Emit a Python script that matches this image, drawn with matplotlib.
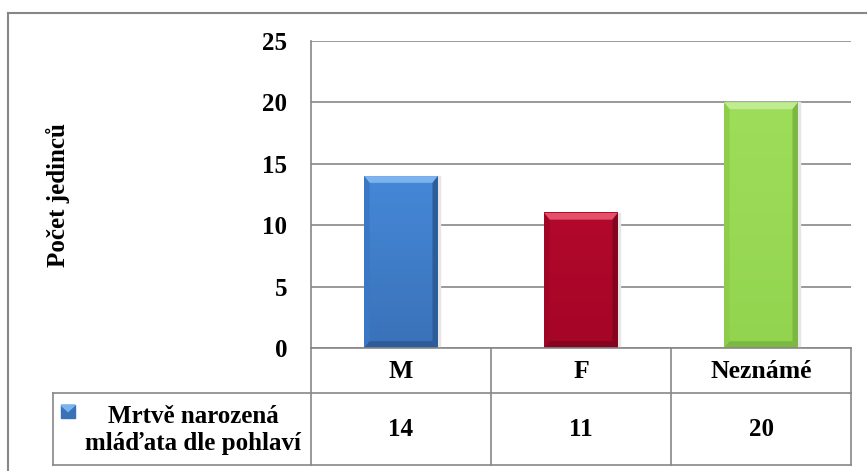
import numpy as np
import matplotlib.pyplot as plt
from matplotlib.colors import LinearSegmentedColormap
from matplotlib.patches import Rectangle, Polygon
from matplotlib.lines import Line2D

# dead-born young by sex
categories = ['M', 'F', 'Neznámé']
counts = [14, 11, 20]
series_name = 'Mrtvě narozená\nmláďata dle pohlaví'
y_label = 'Počet jedinců'
y_ticks = [0, 5, 10, 15, 20, 25]

# face top, face bottom, top bevel, side bevel, bottom bevel
bar_colors = [
    ('#4588d8', '#3a72b8', '#7cb2ee', '#3a78c4', '#2c5c9a'),
    ('#b2082c', '#a50526', '#e2506a', '#a00525', '#85041f'),
    ('#9edd5a', '#93d44f', '#c0eb90', '#8ecd4c', '#7bb842'),
]

W, H = 867, 471
fig = plt.figure(figsize=(W / 100, H / 100), dpi=100)
plt.rcParams['font.family'] = ['Liberation Serif', 'DejaVu Serif']
FS = 18
GRID = '#878787'


def fx(x):
    return x / W


def fy(y):
    return 1 - y / H


ax = fig.add_axes([fx(311), fy(348), (851 - 311) / W, (348 - 41) / H])

# bevelled bars
bw = 0.41
dx = 0.03
dy = 0.55
for i, (v, (c_top, c_bot, top, side, bot)) in enumerate(zip(counts, bar_colors)):
    x0, x1 = i - bw / 2, i + bw / 2
    ax.add_patch(Rectangle((x0 + 0.01, 0), bw, v, color='#e6e6e6', zorder=2))
    cmap = LinearSegmentedColormap.from_list('f%d' % i, [c_bot, c_top])
    ax.imshow(np.linspace(1, 0, 64).reshape(-1, 1), cmap=cmap, aspect='auto',
              extent=(x0, x1, 0, v), zorder=3, interpolation='bilinear')
    ax.add_patch(Polygon([(x0, v), (x1, v), (x1 - dx, v - dy), (x0 + dx, v - dy)],
                         closed=True, color=top, zorder=4, linewidth=0))
    ax.add_patch(Polygon([(x0, 0), (x0 + dx, dy), (x0 + dx, v - dy), (x0, v)],
                         closed=True, color=side, zorder=4, linewidth=0))
    ax.add_patch(Polygon([(x1, 0), (x1 - dx, dy), (x1 - dx, v - dy), (x1, v)],
                         closed=True, color=bot, zorder=4, linewidth=0))
    ax.add_patch(Polygon([(x0, 0), (x1, 0), (x1 - dx, dy), (x0 + dx, dy)],
                         closed=True, color=bot, zorder=4, linewidth=0))

ax.set_xlim(-0.5, len(categories) - 0.5)
ax.set_ylim(0, 25)
ax.set_yticks(y_ticks)
ax.set_yticklabels([str(t) for t in y_ticks], fontsize=FS, fontweight='bold')
ax.tick_params(axis='y', length=0, pad=17)
ax.set_xticks([])
ax.yaxis.grid(True, color=GRID, linewidth=1.2)
ax.set_axisbelow(True)
for s in ['top', 'right', 'bottom']:
    ax.spines[s].set_visible(False)
ax.spines['left'].set_color(GRID)
ax.spines['left'].set_linewidth(1.2)

fig.text(fx(58), fy(195), y_label, rotation=90, ha='center', va='center',
         fontsize=FS, fontweight='bold')

# data table under the plot
fig.canvas.draw()
scale = W / fig.bbox.width
edges = [ax.transData.transform((k - 0.5, 0))[0] * scale
         for k in range(len(categories) + 1)]
top_y, mid_y, bot_y = 348, 393, 465
leg_x = 53


def hline(x0, x1, y):
    fig.add_artist(Line2D([fx(x0), fx(x1)], [fy(y), fy(y)], color=GRID, lw=1.2))


def vline(x, y0, y1):
    fig.add_artist(Line2D([fx(x), fx(x)], [fy(y0), fy(y1)], color=GRID, lw=1.2))


hline(edges[0], edges[-1], top_y)
hline(leg_x, edges[-1], mid_y)
hline(leg_x, edges[-1], bot_y)
vline(leg_x, mid_y, bot_y)
for e in edges:
    vline(e, top_y, bot_y)

for k, (cat, v) in enumerate(zip(categories, counts)):
    cx = (edges[k] + edges[k + 1]) / 2
    fig.text(fx(cx), fy(371), cat, ha='center', va='center', fontsize=FS + 0.5,
             fontweight='bold')
    fig.text(fx(cx), fy(430), str(v), ha='center', va='center', fontsize=FS,
             fontweight='bold')

fig.text(fx(193), fy(430), series_name, ha='center', va='center', fontsize=FS,
         fontweight='bold', linespacing=1.2)

# legend key
kx0, kx1, ky0, ky1 = 61, 75, 405, 418
fig.add_artist(Rectangle((fx(kx0), fy(ky1)), (kx1 - kx0) / W, (ky1 - ky0) / H,
                         color='#3a72b8', transform=fig.transFigure))
fig.add_artist(Polygon([(fx(kx0), fy(ky0)), (fx(kx1), fy(ky0)),
                        (fx((kx0 + kx1) / 2), fy((ky0 + ky1) / 2))],
                       closed=True, color='#7cb2ee', transform=fig.transFigure))

# outer frame
fig.add_artist(Line2D([fx(8), fx(W)], [fy(13), fy(13)], color=GRID, lw=1.5))
fig.add_artist(Line2D([fx(8), fx(8)], [fy(13), fy(H)], color=GRID, lw=1.5))

fig.savefig('out.png', dpi=100)
